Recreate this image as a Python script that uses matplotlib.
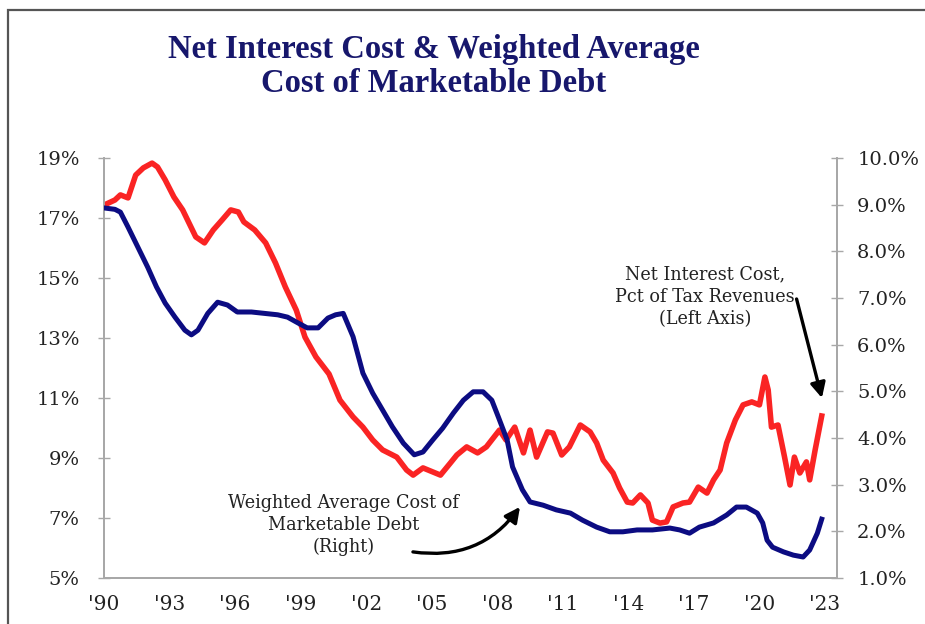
import matplotlib
matplotlib.use("Agg")
import matplotlib.pyplot as plt
from matplotlib.patches import Rectangle

# Net interest cost as % of tax revenues (left axis)
net_interest_years = [
    1990.0, 1990.5, 1990.75, 1991.1, 1991.45, 1991.8, 1992.2, 1992.45, 1992.8,
    1993.2, 1993.6, 1994.2, 1994.6, 1995.0, 1995.4, 1995.8, 1996.15, 1996.4,
    1996.9, 1997.4, 1997.85, 1998.3, 1998.8, 1999.2, 1999.7, 2000.3, 2000.8,
    2001.4, 2001.85, 2002.3, 2002.75, 2003.4, 2003.85, 2004.15, 2004.6, 2005.4,
    2005.85, 2006.15, 2006.6, 2007.1, 2007.5, 2008.1, 2008.4, 2008.8, 2009.2,
    2009.5, 2009.8, 2010.3, 2010.55, 2010.95, 2011.3, 2011.8, 2012.25, 2012.55,
    2012.85, 2013.3, 2013.6, 2013.95, 2014.2, 2014.55, 2014.9, 2015.1, 2015.45,
    2015.75, 2016.05, 2016.5, 2016.8, 2017.2, 2017.6, 2017.9, 2018.2, 2018.5,
    2018.9, 2019.25, 2019.65, 2020.0, 2020.25, 2020.4, 2020.55, 2020.85,
    2021.15, 2021.4, 2021.6, 2021.85, 2022.15, 2022.3, 2022.55, 2022.85,
]
net_interest_pct = [
    17.43, 17.6, 17.77, 17.67, 18.43, 18.67, 18.83, 18.7, 18.27,
    17.7, 17.27, 16.37, 16.17, 16.6, 16.93, 17.27, 17.2, 16.87,
    16.6, 16.17, 15.5, 14.7, 13.93, 13.03, 12.37, 11.8, 10.93,
    10.37, 10.03, 9.6, 9.27, 9.03, 8.6, 8.43, 8.67, 8.43,
    8.83, 9.1, 9.37, 9.17, 9.37, 9.93, 9.6, 10.03, 9.17,
    9.93, 9.03, 9.87, 9.83, 9.1, 9.37, 10.1, 9.87, 9.5,
    8.93, 8.5, 8.0, 7.53, 7.5, 7.77, 7.5, 6.93, 6.83,
    6.87, 7.37, 7.5, 7.53, 8.03, 7.83, 8.27, 8.6, 9.5,
    10.27, 10.77, 10.87, 10.77, 11.7, 11.27, 10.03, 10.1,
    9.03, 8.1, 9.03, 8.5, 8.87, 8.27, 9.27, 10.4,
]

# Weighted average cost of marketable debt (right axis)
wac_years = [
    1990.0, 1990.5, 1990.75, 1991.1, 1991.55, 1992.0, 1992.4, 1992.8, 1993.25,
    1993.7, 1994.0, 1994.3, 1994.75, 1995.2, 1995.65, 1996.1, 1996.75, 1997.35,
    1997.95, 1998.4, 1998.9, 1999.3, 1999.8, 2000.25, 2000.6, 2000.95, 2001.4,
    2001.85, 2002.3, 2002.75, 2003.2, 2003.7, 2004.2, 2004.6, 2005.05, 2005.5,
    2006.0, 2006.45, 2006.9, 2007.35, 2007.75, 2008.05, 2008.45, 2008.7, 2009.15,
    2009.5, 2010.1, 2010.7, 2011.35, 2011.9, 2012.55, 2013.15, 2013.75, 2014.4,
    2015.1, 2015.9, 2016.35, 2016.8, 2017.25, 2017.9, 2018.5, 2018.95, 2019.4,
    2019.9, 2020.15, 2020.35, 2020.6, 2021.1, 2021.55, 2022.0, 2022.3, 2022.65,
    2022.85,
]
wac_pct = [
    8.93, 8.9, 8.84, 8.52, 8.09, 7.66, 7.24, 6.89, 6.59,
    6.31, 6.21, 6.31, 6.67, 6.91, 6.85, 6.70, 6.70, 6.67,
    6.64, 6.59, 6.46, 6.36, 6.36, 6.57, 6.64, 6.67, 6.17,
    5.39, 4.96, 4.6, 4.24, 3.89, 3.64, 3.7, 3.96, 4.21,
    4.54, 4.81, 4.99, 4.99, 4.81, 4.45, 3.96, 3.38, 2.89,
    2.63, 2.56, 2.46, 2.39, 2.24, 2.09, 1.99, 1.99, 2.03,
    2.03, 2.07, 2.03, 1.96, 2.09, 2.18, 2.35, 2.52, 2.52,
    2.39, 2.18, 1.81, 1.66, 1.56, 1.49, 1.45, 1.6, 1.96,
    2.26,
]

x_ticks = list(range(1990, 2024, 3))
x_tick_labels = ["'90", "'93", "'96", "'99", "'02", "'05", "'08",
                 "'11", "'14", "'17", "'20", "'23"]
left_ticks = [5, 7, 9, 11, 13, 15, 17, 19]
left_tick_labels = ["5%", "7%", "9%", "11%", "13%", "15%", "17%", "19%"]
right_ticks = [1, 2, 3, 4, 5, 6, 7, 8, 9, 10]
right_tick_labels = ["1.0%", "2.0%", "3.0%", "4.0%", "5.0%", "6.0%",
                     "7.0%", "8.0%", "9.0%", "10.0%"]

RED = "#fa2424"
NAVY = "#0c0c82"
SPINE = "#a8a8a8"
TEXT = "#222222"
SERIF = ["DejaVu Serif"]

fig = plt.figure(figsize=(9.25, 6.24), dpi=100)
fig.patch.set_facecolor("white")

# outer frame
fig.add_artist(Rectangle((8 / 925, -0.2), 1.2, 1.2 - 10 / 624,
                         transform=fig.transFigure, fill=False,
                         edgecolor="#555555", linewidth=1.6))

fig.text(0.469, 0.894,
         "Net Interest Cost & Weighted Average\nCost of Marketable Debt",
         ha="center", va="center", fontsize=23.5, fontweight="bold",
         family=["Liberation Serif"], color="#17176c", linespacing=1.12)

ax = fig.add_axes([104 / 925, 46 / 624, (837 - 104) / 925, (578 - 158) / 624])
ax2 = ax.twinx()

ax.plot(net_interest_years, net_interest_pct, color=RED, linewidth=4.0,
        solid_joinstyle="round", zorder=3)
ax2.plot(wac_years, wac_pct, color=NAVY, linewidth=3.6,
         solid_joinstyle="round", zorder=3)

ax.set_xlim(1990, 2023.55)
ax.set_ylim(5, 19)
ax2.set_ylim(1, 10)

ax.set_xticks(x_ticks)
ax.set_xticklabels(x_tick_labels)
ax.set_yticks(left_ticks)
ax.set_yticklabels(left_tick_labels)
ax2.set_yticks(right_ticks)
ax2.set_yticklabels(right_tick_labels)

for a in (ax, ax2):
    for s in a.spines.values():
        s.set_color(SPINE)
        s.set_linewidth(1.3)
    a.spines["top"].set_visible(False)

ax.tick_params(axis="x", length=0, pad=12, labelsize=14.5, labelcolor=TEXT)
ax.tick_params(axis="y", direction="inout", length=9, width=1, color=SPINE,
               pad=13, labelsize=14, labelcolor=TEXT)
ax2.tick_params(axis="y", direction="inout", length=9, width=1, color=SPINE,
                pad=10, labelsize=14, labelcolor=TEXT)
for lbl in ax.get_xticklabels() + ax.get_yticklabels() + ax2.get_yticklabels():
    lbl.set_family(SERIF)

arrow_style = dict(arrowstyle="-|>,head_length=0.9,head_width=0.45",
                   color="black", linewidth=2.4, shrinkA=0, shrinkB=0)

ax.text(2017.5, 14.37, "Net Interest Cost,\nPct of Tax Revenues\n(Left Axis)",
        ha="center", va="center", fontsize=12.7, family=SERIF, color=TEXT,
        linespacing=1.3, zorder=4)
ax.annotate("", xy=(2022.86, 11.0), xytext=(2021.7, 14.3),
            arrowprops=dict(connectionstyle="arc3,rad=0.0", **arrow_style),
            zorder=5)

ax.text(2000.98, 6.77, "Weighted Average Cost of\nMarketable Debt\n(Right)",
        ha="center", va="center", fontsize=12.7, family=SERIF, color=TEXT,
        linespacing=1.3, zorder=4)
ax.annotate("", xy=(2009.04, 7.37), xytext=(2004.14, 5.87),
            arrowprops=dict(connectionstyle="arc3,rad=0.3", **arrow_style),
            zorder=5)

fig.savefig("out.png", dpi=100, facecolor="white")
